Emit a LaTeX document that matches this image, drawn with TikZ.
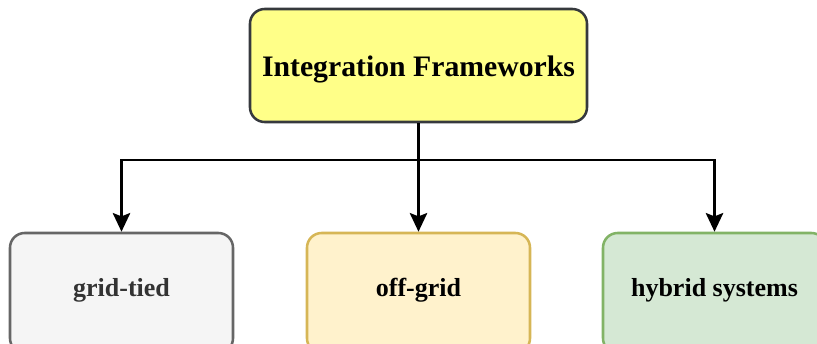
\documentclass[tikz,border=0pt]{standalone}
\usepackage{fontspec}
\setmainfont{Liberation Serif}
\usetikzlibrary{arrows.meta}
\definecolor{topfill}{HTML}{FFFF88}
\definecolor{topline}{HTML}{36393D}
\definecolor{gtfill}{HTML}{F5F5F5}
\definecolor{gtline}{HTML}{666666}
\definecolor{ogfill}{HTML}{FFF2CC}
\definecolor{ogline}{HTML}{D6B656}
\definecolor{hyfill}{HTML}{D5E8D4}
\definecolor{hyline}{HTML}{82B366}
\tikzset{
  box/.style={draw, line width=1.9pt, rounded corners=11pt, align=center, inner sep=0pt},
  topbox/.style={box, fill=topfill, draw=topline, minimum width=252.75pt, minimum height=84.75pt, font=\fontsize{22.3}{26}\selectfont\bfseries},
  leafbox/.style={box, minimum width=167.25pt, minimum height=90pt, font=\fontsize{19.5}{23}\selectfont\bfseries},
  conn/.style={line width=2.2pt, -{Stealth[length=14pt,width=13pt,inset=2.5pt]}}
}
\begin{document}
\begin{tikzpicture}[x=0.75pt,y=-0.75pt]
\useasboundingbox (0,0) rectangle (817,343);
\clip (0,0) rectangle (817,343);
\node[topbox] (top) at (418.5,65.5) {\raisebox{-7.9pt}[0pt][0pt]{Integration Frameworks}};
\node[leafbox, fill=gtfill, draw=gtline, text=black!80] (gt) at (121.5,293) {\raisebox{-2.25pt}[0pt][0pt]{grid-tied}};
\node[leafbox, fill=ogfill, draw=ogline] (og) at (418.5,293) {\raisebox{-2.25pt}[0pt][0pt]{off-grid}};
\node[leafbox, fill=hyfill, draw=hyline] (hy) at (714.5,293) {\raisebox{-2.25pt}[0pt][0pt]{hybrid systems}};
\coordinate (split) at (418.5,160);
\draw[line width=2.2pt] (top.south) -- (split);
\draw[conn] (split) -| (gt.north);
\draw[conn] (split) -- (og.north);
\draw[conn] (split) -| (hy.north);
\end{tikzpicture}
\end{document}
